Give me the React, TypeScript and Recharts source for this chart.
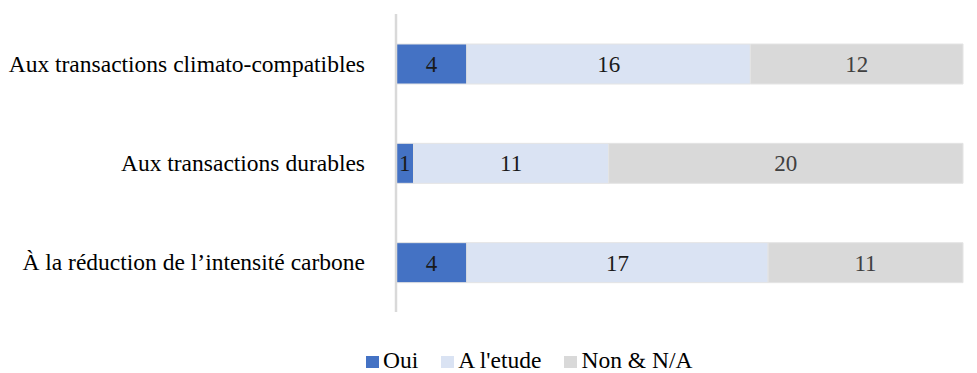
import { Bar, BarChart, LabelList, XAxis, YAxis } from 'recharts';

const categories = [
  'Aux transactions climato-compatibles',
  'Aux transactions durables',
  'À la réduction de l’intensité carbone',
];
const oui = [4, 1, 4];
const aLetude = [16, 11, 17];
const nonNa = [12, 20, 11];

const seriesNames = ['Oui', "A l'etude", 'Non & N/A'];
const seriesColors = ['#4472c4', '#dae3f3', '#d9d9d9'];
const labelColors = ['#1a1a1a', '#1a1a1a', '#404040'];

const data = categories.map((name, i) => ({
  name,
  oui: oui[i],
  etude: aLetude[i],
  non: nonNa[i],
}));

const FONT = "'Liberation Serif', serif";

function CategoryTick({ x, y, payload }: any) {
  return (
    <text
      x={x - 23}
      y={y}
      dy={8}
      textAnchor="end"
      style={{ fontFamily: FONT, fontSize: 23.5 }}
      fill="#000"
    >
      {payload.value}
    </text>
  );
}

function Legend() {
  return (
    <div
      style={{
        position: 'absolute',
        top: 349,
        left: 366,
        display: 'flex',
        gap: 23,
        fontFamily: FONT,
        fontSize: 23.5,
        lineHeight: '23px',
        height: 23,
      }}
    >
      {seriesNames.map((s, i) => (
        <span key={s} style={{ display: 'flex', alignItems: 'center' }}>
          <span
            style={{
              width: 13,
              height: 12,
              background: seriesColors[i],
              display: 'inline-block',
              marginRight: 4,
              marginTop: 2,
            }}
          />
          {s}
        </span>
      ))}
    </div>
  );
}

export default function App() {
  const keys = ['oui', 'etude', 'non'];
  return (
    <div style={{ position: 'absolute', left: 0, top: 0, width: 977, height: 373, background: '#fff' }}>
      <BarChart
        width={977}
        height={373}
        data={data}
        layout="vertical"
        margin={{ top: 14, right: 14, bottom: 61, left: 0 }}
        style={{ fontFamily: FONT }}
      >
        <XAxis type="number" domain={[0, 32]} hide />
        <YAxis
          type="category"
          dataKey="name"
          width={396}
          axisLine={{ stroke: '#d9d9d9', strokeWidth: 2.5 }}
          tickLine={false}
          tick={<CategoryTick />}
        />
        {keys.map((k, i) => (
          <Bar
            key={k}
            dataKey={k}
            name={seriesNames[i]}
            stackId="a"
            fill={seriesColors[i]}
            stroke="#e4e4e4"
            strokeWidth={1}
            barSize={40}
            isAnimationActive={false}
          >
            <LabelList
              dataKey={k}
              position="center"
              fill={labelColors[i]}
              style={{ fontFamily: FONT, fontSize: 23 }}
            />
          </Bar>
        ))}
      </BarChart>
      <Legend />
    </div>
  );
}
